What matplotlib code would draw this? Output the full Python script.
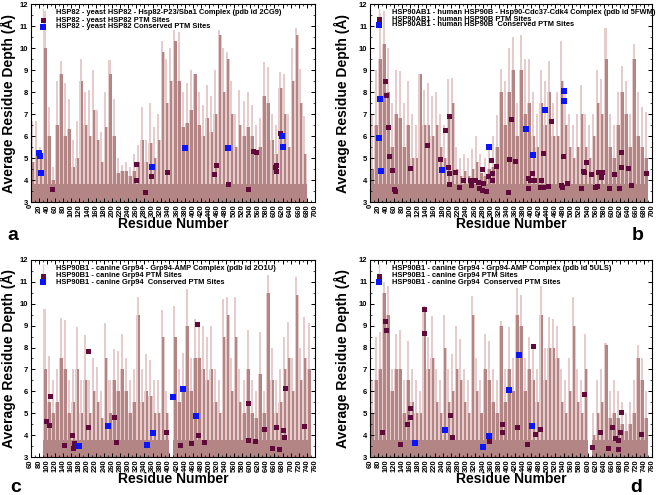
import numpy as np
import matplotlib.pyplot as plt
from matplotlib.ticker import MultipleLocator

plt.rcParams['font.family'] = ['Liberation Sans', 'DejaVu Sans']
plt.rcParams['font.weight'] = 'bold'
plt.rcParams['axes.linewidth'] = 0.8

# ---- panel a : yeast HSP82 (2CG9), bins of 10 residues from 0
start_a = 0
light_a = [6.7, 6.7, 5.5, 11.7, 7.3, 4.6, 8.5, 9.4, 8.4, 7.7,
           5.8, 6.7, 9.5, 8.0, 8.1, 9.0, 7.2, 6.2, 8.0, 9.45,
           7.7, 5.0, 4.7, 4.8, 4.6, 5.2, 5.6, 7.3, 5.8, 7.5,
           6.4, 7.0, 10.3, 9.5, 10.0, 10.8, 10.75, 8.0, 8.4, 9.0,
           8.2, 8.0, 7.4, 8.3, 7.8, 9.0, 10.8, 10.0, 9.8, 8.5,
           7.0, 8.1, 7.6, 8.0, 7.4, 6.5, 6.8, 9.35, 9.15, 7.0,
           6.5, 8.9, 8.8, 7.0, 10.0, 10.9, 9.05, 6.9]
dark_a = [4.8, 5.2, 5.0, 10.0, 6.0, 4.0, 6.5, 8.8, 6.0, 6.3,
          4.6, 5.0, 8.5, 6.5, 6.0, 7.2, 5.8, 4.8, 6.4, 8.8,
          6.0, 4.3, 4.4, 4.4, 4.2, 4.4, 4.8, 5.8, 4.8, 5.7,
          5.0, 5.8, 9.8, 7.5, 8.5, 10.3, 8.5, 6.4, 6.6, 7.2,
          8.8, 6.5, 6.0, 6.8, 6.2, 7.0, 10.6, 8.0, 9.5, 7.0,
          5.5, 6.5, 6.0, 6.4, 6.0, 5.2, 5.5, 7.8, 7.5, 5.8,
          5.2, 8.2, 7.0, 5.5, 8.5, 10.6, 7.5, 5.2]
base_a = 3.8
ptm_a_x = [53, 259, 259, 282, 295, 335, 451, 457, 485, 534, 548, 554, 601, 605, 603, 615]
ptm_a_y = [3.6, 4.74, 3.98, 3.44, 4.2, 4.38, 4.26, 4.7, 3.8, 3.6, 5.33, 5.27, 4.58, 4.68, 4.39, 6.12]
cons_a_x = [20, 23, 26, 298, 380, 486, 618, 621]
cons_a_y = [5.24, 5.08, 4.32, 4.6, 5.47, 5.47, 6.0, 5.5]

# ---- panel b : human HSP90B (5FWM)
start_b = 0
light_b = [7.0, 9.0, 11.6, 11.7, 10.0, 7.5, 9.0, 8.95, 7.5, 8.5,
           7.0, 6.5, 8.7, 8.1, 8.4, 7.8, 8.0, 7.0, 6.5, 8.6,
           8.65, 5.5, 5.0, 5.2, 5.0, 5.4, 6.0, 5.2, 5.0, 5.5,
           6.0, 6.95, 9.05, 8.5, 10.0, 10.5, 7.5, 10.6, 9.5, 9.5,
           8.0, 7.0, 9.0, 8.5, 9.4, 7.5, 8.0, 10.3, 8.0, 7.0,
           6.5, 7.0, 8.3, 7.0, 6.5, 7.0, 9.0, 8.6, 10.9, 7.0,
           6.5, 8.0, 9.2, 8.5, 7.0, 10.2, 8.0, 7.3, 7.1]
dark_b = [4.5, 6.5, 9.5, 10.2, 8.0, 5.5, 7.0, 6.8, 5.5, 6.5,
          5.0, 5.0, 8.8, 6.5, 6.5, 6.0, 6.5, 5.5, 5.0, 6.8,
          7.5, 4.5, 4.2, 4.4, 4.2, 4.5, 4.8, 4.3, 4.2, 4.5,
          4.6, 5.5, 8.0, 6.5, 8.0, 9.0, 6.0, 9.0, 7.0, 7.5,
          6.0, 5.5, 7.5, 6.5, 8.0, 6.0, 6.0, 8.5, 6.5, 5.5,
          5.0, 5.5, 7.0, 5.5, 5.0, 6.0, 7.5, 7.0, 9.5, 5.5,
          5.0, 6.5, 8.0, 7.0, 5.5, 9.5, 6.0, 5.5, 5.0]
base_b = 3.8
ptm_b_x = [36, 40, 45, 48, 55, 59, 62, 99, 141, 173, 185, 193, 197, 197, 196, 212, 220,
           231, 248, 251, 260, 269, 270, 278, 279, 278, 288, 292, 302, 300, 303, 313,
           342, 345, 349, 360, 393, 393, 398, 402, 407, 422, 423, 429, 430, 441, 448,
           474, 477, 479, 488, 524, 529, 530, 536, 547, 558, 563, 565, 572, 575, 593,
           605, 617, 622, 623, 639, 648, 684]
ptm_b_y = [8.5, 7.88, 6.4, 5.1, 4.45, 3.58, 3.52, 4.56, 5.6, 4.94, 6.29, 4.6, 6.9, 4.33, 3.8, 4.38, 3.7,
           3.98, 3.98, 3.76, 3.98, 3.92, 3.65, 4.48, 3.88, 3.55, 3.5, 4.18, 4.0, 4.9, 4.32, 4.65,
           3.47, 4.94, 6.76, 4.86, 3.62, 4.1, 4.0, 4.33, 3.98, 3.7, 4.02, 3.7, 5.23, 3.74, 6.67,
           3.77, 3.67, 5.08, 3.88, 3.65, 4.42, 4.35, 4.82, 4.29, 3.7, 3.74, 4.35, 4.13, 4.35, 3.65,
           4.27, 3.65, 4.6, 5.26, 4.56, 3.76, 4.32]
cons_b_x = [23, 24, 27, 178, 295, 386, 405, 434, 480, 482]
cons_b_y = [5.9, 7.68, 4.41, 4.47, 5.52, 6.32, 5.12, 7.2, 7.6, 8.06]

# ---- panel c : canine Grp94 (2O1U)
start_c = 90
light_c = [9.75, 7.6, 6.5, 7.0, 9.35, 9.25, 6.5, 7.0, 8.95, 6.5,
           8.55, 6.5, 7.5, 7.1, 6.0, 9.1, 6.5, 7.95, 7.85, 8.6,
           7.5, 6.5, 7.0, 10.3, 7.0, 7.7, 7.45, 6.5, 6.5, 9.7,
           6.0, 3.0, 9.9, 7.0, 7.75, 10.65, 7.5, 9.3, 9.0, 9.0,
           8.5, 9.0, 7.0, 6.5, 10.2, 10.3, 7.5, 10.3, 7.0, 6.5,
           8.8, 6.5, 6.0, 8.7, 6.0, 11.3, 8.0, 6.5, 7.0, 8.5,
           9.15, 7.5, 11.2, 8.0, 9.4, 9.1]
dark_c = [7.0, 5.5, 5.0, 5.5, 7.5, 7.0, 5.0, 5.5, 7.0, 5.0,
          6.5, 5.0, 6.0, 5.5, 4.8, 7.5, 5.0, 6.5, 6.0, 7.0,
          6.0, 5.0, 5.5, 9.5, 5.5, 6.0, 5.8, 5.0, 5.0, 8.5,
          5.0, 3.0, 8.5, 5.5, 6.0, 9.0, 6.0, 7.5, 7.5, 7.0,
          6.5, 7.0, 5.5, 5.0, 8.5, 9.5, 6.0, 8.5, 5.5, 5.0,
          7.0, 5.0, 4.8, 6.8, 5.0, 10.5, 6.5, 5.0, 5.5, 7.0,
          7.5, 6.0, 10.4, 6.5, 7.5, 7.0]
base_c = 3.8
ptm_c_x = [97, 106, 108, 141, 161, 167, 164, 200, 200, 265, 270, 392, 428, 455, 469, 473,
           486, 594, 594, 613, 634, 653, 664, 672, 680, 683, 685, 734]
ptm_c_y = [4.64, 4.46, 5.78, 3.56, 4.0, 3.67, 3.41, 7.83, 4.37, 4.82, 3.7, 4.17, 3.58, 3.65, 9.06, 4.0,
           3.68, 5.46, 3.79, 3.74, 4.29, 3.44, 4.38, 3.36, 4.24, 3.93, 6.17, 4.41]
cons_c_x = [178, 251, 347, 361, 410, 434, 467]
cons_c_y = [3.52, 4.44, 3.58, 4.09, 5.75, 6.13, 4.9]

# ---- panel d : canine Grp94 (5ULS)
start_d = 60
light_d = [6.5, 8.5, 8.7, 11.0, 10.8, 7.0, 8.6, 8.8, 6.5, 8.3,
           7.0, 6.5, 6.0, 9.9, 8.5, 9.45, 7.0, 6.5, 9.5, 7.0,
           7.7, 9.0, 8.4, 7.0, 6.5, 10.35, 7.5, 6.5, 8.6, 8.3,
           7.0, 6.5, 9.2, 7.0, 8.95, 7.5, 10.7, 10.4, 7.5, 8.5,
           8.0, 7.0, 10.8, 8.0, 9.4, 9.3, 9.0, 7.0, 6.5, 7.5,
           10.3, 7.0, 6.5, 8.6, 3.0, 5.0, 6.5, 7.0, 8.2, 6.0,
           6.5, 6.0, 5.5, 5.0, 5.5, 6.5, 8.1, 7.5, 6.0]
dark_d = [5.0, 6.5, 7.0, 10.5, 9.5, 6.0, 7.0, 7.0, 5.0, 6.5,
          5.5, 5.0, 5.0, 9.8, 7.0, 7.5, 5.5, 5.0, 8.0, 5.5,
          6.0, 7.0, 6.5, 5.5, 5.0, 9.5, 6.0, 5.0, 7.0, 6.5,
          5.5, 5.0, 9.0, 5.5, 7.0, 6.0, 9.5, 9.0, 6.0, 7.0,
          6.5, 5.5, 9.5, 6.5, 8.0, 8.0, 7.5, 5.5, 5.0, 6.0,
          9.0, 5.5, 5.0, 7.0, 3.0, 4.0, 5.0, 5.5, 8.1, 4.8,
          5.0, 4.8, 4.5, 4.2, 4.5, 5.0, 7.5, 6.5, 4.8]
base_d = 3.8
ptm_d_x = [89, 96, 100, 134, 153, 158, 160, 193, 193, 258, 263, 355, 387, 387, 424, 450, 463,
           468, 481, 590, 610, 631, 649, 660, 668, 676, 676, 680, 682, 732]
ptm_d_y = [4.14, 9.22, 8.81, 3.61, 4.53, 5.23, 4.85, 9.74, 8.67, 4.94, 3.91, 3.76, 4.52, 4.17, 4.4, 3.59, 8.07,
           4.05, 4.29, 5.88, 3.46, 4.15, 3.42, 4.4, 3.88, 3.77, 3.36, 4.14, 5.08, 4.06]
cons_d_x = [171, 245, 341, 354, 405, 429, 462]
cons_d_y = [3.65, 4.24, 3.49, 3.99, 6.05, 7.66, 4.43]

labels_a = ['HSP82 - yeast HSP82 - Hsp82-P23/Sba1 Complex (pdb id 2CG9)',
            'HSP82 - yeast HSP82 PTM Sites',
            'HSP82 - yeast HSP82 Conserved PTM Sites']
labels_b = ['HSP90AB1 - human HSP90B - Hsp90-Cdc37-Cdk4 Complex (pdb id 5FWM)',
            'HSP90AB1 - human HSP90B PTM Sites',
            'HSP90AB1 - human HSP90B  Conserved PTM Sites']
labels_c = ['HSP90B1 - canine Grp94 - Grp94-AMP Complex (pdb id 2O1U)',
            'HSP90B1 - canine Grp94 PTM Sites',
            'HSP90B1 - canine Grp94  Conserved PTM Sites']
labels_d = ['HSP90B1 - canine Grp94 - Grp94-AMP Complex (pdb id 5ULS)',
            'HSP90B1 - canine Grp94 PTM Sites',
            'HSP90B1 - canine Grp94  Conserved PTM Sites']

LIGHT = '#e6cccc'
DARK = '#b48585'
PTM = '#600a3c'
CONS = '#0a14ff'


def panel(ax, start, light, dark, base, px, py, cx, cy, labels, xlim, leg_x, leg_mx, leg_y, ylab_x):
    pos = start + 5 + 10 * np.arange(len(light))
    light = np.array(light)
    dark = np.array(dark)
    # light body up to the dark level, thinner light spikes up to the peak
    ax.bar(pos, dark - 3, bottom=3, width=10, color=LIGHT, linewidth=0)
    ax.bar(pos - 1, light - 3, bottom=3, width=5, color=LIGHT, linewidth=0)
    # dark base and dark spikes
    ax.bar(pos, np.minimum(dark, base) - 3, bottom=3, width=10, color=DARK, linewidth=0)
    ax.bar(pos + 1, dark - 3, bottom=3, width=6, color=DARK, linewidth=0)
    ax.plot(px, py, 's', color=PTM, ms=3.6, mew=0, zorder=3)
    ax.plot(cx, cy, 's', color=CONS, ms=4.8, mew=0, zorder=4)

    ax.set_xlim(*xlim)
    ax.set_ylim(3, 12)
    ax.xaxis.set_major_locator(MultipleLocator(20))
    ax.xaxis.set_minor_locator(MultipleLocator(10))
    ax.yaxis.set_major_locator(MultipleLocator(1))
    ax.yaxis.set_minor_locator(MultipleLocator(0.5))
    ax.tick_params(which='both', direction='in', top=True, right=True)
    ax.tick_params(which='major', length=3, width=0.7)
    ax.tick_params(which='minor', length=1.5, width=0.5)
    ax.tick_params(axis='x', labelrotation=90, labelsize=5.5, pad=1.5)
    ax.tick_params(axis='y', labelsize=5.5, pad=2)

    ax.set_xlabel('Residue Number', fontsize=10, fontweight='bold')
    ax.xaxis.set_label_coords(0.5, -0.075)
    ax.set_ylabel('Average Residue Depth (Å)', fontsize=10, fontweight='bold')
    ax.yaxis.set_label_coords(ylab_x, 0.5)

    # legend drawn by hand, like the original
    tr = ax.transAxes
    ax.plot([leg_mx], [leg_y[0]], '|', color=LIGHT, ms=7, mew=1, transform=tr, clip_on=False)
    ax.plot([leg_mx], [leg_y[1]], 's', color=PTM, ms=3.6, mew=0, transform=tr, zorder=5)
    ax.plot([leg_mx], [leg_y[2]], 's', color=CONS, ms=4.8, mew=0, transform=tr, zorder=5)
    for t, y in zip(labels, leg_y):
        ax.text(leg_x, y, t, transform=tr, fontsize=5.4, fontweight='bold', va='center', ha='left')


fig = plt.figure(figsize=(6.6, 4.95), dpi=100)
ax_a = fig.add_axes([0.0465, 0.5919, 0.4308, 0.4])
ax_b = fig.add_axes([0.5606, 0.5919, 0.4277, 0.4])
ax_c = fig.add_axes([0.0465, 0.0762, 0.4308, 0.3992])
ax_d = fig.add_axes([0.5606, 0.0762, 0.4277, 0.3992])

panel(ax_a, start_a, light_a, dark_a, base_a, ptm_a_x, ptm_a_y, cons_a_x, cons_a_y, labels_a,
      (0, 700), 0.089, 0.043, [0.955, 0.919, 0.884], -0.052)
panel(ax_b, start_b, light_b, dark_b, base_b, ptm_b_x, ptm_b_y, cons_b_x, cons_b_y, labels_b,
      (0, 700), 0.077, 0.032, [0.955, 0.922, 0.894], -0.071)
panel(ax_c, start_c, light_c, dark_c, base_c, ptm_c_x, ptm_c_y, cons_c_x, cons_c_y, labels_c,
      (60, 760), 0.09, 0.043, [0.953, 0.919, 0.886], -0.052)
panel(ax_d, start_d, light_d, dark_d, base_d, ptm_d_x, ptm_d_y, cons_d_x, cons_d_y, labels_d,
      (60, 760), 0.077, 0.032, [0.953, 0.919, 0.886], -0.071)

fig.text(13 / 660, 1 - 235 / 495, 'a', fontsize=14, fontweight='bold', ha='center', va='center')
fig.text(638 / 660, 1 - 235 / 495, 'b', fontsize=14, fontweight='bold', ha='center', va='center')
fig.text(16 / 660, 1 - 487 / 495, 'c', fontsize=14, fontweight='bold', ha='center', va='center')
fig.text(636 / 660, 1 - 487 / 495, 'd', fontsize=14, fontweight='bold', ha='center', va='center')

fig.savefig('out.png', dpi=100)
